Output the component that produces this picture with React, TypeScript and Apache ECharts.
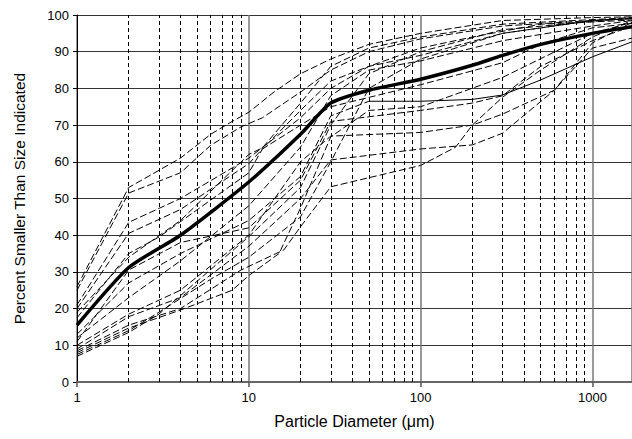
import React, { useEffect, useRef } from "react";
import * as echarts from "echarts";

// Y axis tick labels and x axis decade labels
const Y_TICKS = [0, 10, 20, 30, 40, 50, 60, 70, 80, 90, 100];
const X_DECADES = [1, 10, 100, 1000];
// Intermediate diameters drawn as dashed vertical grid lines
const X_MINOR = [2, 3, 4, 5, 6, 7, 8, 9, 20, 30, 40, 50, 60, 70, 80, 90, 200, 300, 400, 500, 600, 700, 800, 900];

// Individual samples: [diameter µm, percent smaller]
const SAMPLE_A: [number, number][] = [[1, 26], [2, 53], [4, 61], [6, 67.5], [8, 71], [10, 73.5], [14, 79], [20, 84], [30, 88], [50, 92], [100, 95], [300, 98.5], [1000, 99.3], [1700, 99.5]];
const SAMPLE_B: [number, number][] = [[1, 25], [2, 51.5], [4, 57], [6, 64.5], [9, 69.5], [12, 72], [20, 79], [30, 85], [50, 90], [100, 93.5], [300, 97], [1000, 98.5], [1700, 99]];
const SAMPLE_C: [number, number][] = [[1, 21], [2, 43.5], [4, 50], [10, 61], [20, 72], [30, 80], [50, 86], [100, 91], [200, 94], [500, 97.5], [1700, 98.6]];
const SAMPLE_D: [number, number][] = [[1, 20], [2, 40.5], [4, 47], [10, 59.5], [12, 63.5], [20, 70], [30, 75], [100, 81], [300, 87], [500, 92], [1000, 96.5], [1700, 97.7]];
const SAMPLE_E: [number, number][] = [[1, 17.5], [2, 35], [3, 39.5], [10, 57], [12, 63.5], [20, 74], [30, 82], [50, 86], [100, 89], [300, 95], [1000, 98.5], [1700, 99]];
const SAMPLE_F: [number, number][] = [[1, 19], [2, 34], [4, 44], [10, 62], [12, 63.8], [20, 76], [30, 86], [50, 91], [100, 94], [300, 97.5], [1700, 99.3]];
const SAMPLE_G: [number, number][] = [[1, 13], [2, 27], [4, 35], [10, 44], [20, 56], [30, 72.5], [50, 76.5]];
const SAMPLE_G_TAIL: [number, number][] = [[50, 76.5], [100, 76.5], [200, 77], [300, 78.2], [500, 82.3], [1000, 88.6], [1700, 92.7]];
const SAMPLE_H: [number, number][] = [[1, 11], [2, 30.5], [4, 38], [10, 42], [20, 55], [30, 71], [100, 74], [200, 76], [300, 78], [500, 86], [1000, 93], [1700, 97]];
const SAMPLE_I: [number, number][] = [[1, 10], [2, 18.5], [4, 25], [10, 40], [20, 60], [30, 67], [100, 68], [200, 70], [300, 73], [600, 79.5], [1000, 91], [1700, 93.7]];
const SAMPLE_J: [number, number][] = [[1, 9], [2, 17.8], [4, 23], [10, 37], [20, 50], [30, 60.5], [100, 63.5], [200, 64.6], [300, 67.8], [600, 79.5], [1000, 92.4], [1700, 98]];
const SAMPLE_K: [number, number][] = [[1, 8.5], [2, 15.5], [4, 20], [9, 30.5], [16, 36], [20, 42.3], [30, 53.2], [100, 59], [160, 64], [200, 70], [300, 77.6], [500, 85], [1000, 94], [1700, 98.5]];
const SAMPLE_L: [number, number][] = [[1, 8], [2, 14.7], [4, 19.6], [8, 25], [10, 29], [15, 35], [20, 47.4], [30, 66.8], [50, 74], [100, 75], [300, 83], [1000, 95], [1700, 98]];
const SAMPLE_M: [number, number][] = [[1, 7.5], [2, 14], [3, 19], [6, 28], [10, 34], [20, 45], [30, 60], [50, 80], [100, 88], [300, 95], [1000, 98.5], [1700, 99]];
const SAMPLE_N: [number, number][] = [[1, 7], [2, 13.5], [3, 18.5], [10, 39.6], [20, 53], [30, 70], [50, 84], [100, 90], [300, 96], [1700, 99.2]];
const SAMPLE_O: [number, number][] = [[1, 12], [2, 23], [4, 33], [10, 48], [20, 64], [30, 78], [50, 85], [100, 87.5], [300, 93], [1000, 97], [1700, 98.5]];
// Mean curve (thick)
const MEAN: [number, number][] = [[1, 15.5], [2, 31.2], [4, 40], [10, 54.5], [20, 67.5], [30, 76], [50, 79.5], [100, 82.5], [200, 86.3], [300, 89], [500, 92], [1000, 95], [1700, 96.8]];

const X_MAX = 1700;
const FONT = "'Liberation Sans', Arial, Helvetica, sans-serif";

const DASHED = [SAMPLE_A, SAMPLE_B, SAMPLE_C, SAMPLE_D, SAMPLE_E, SAMPLE_F, SAMPLE_G, SAMPLE_H, SAMPLE_I, SAMPLE_J, SAMPLE_K, SAMPLE_L, SAMPLE_M, SAMPLE_N, SAMPLE_O];

export default function App() {
  const ref = useRef<HTMLDivElement>(null);
  useEffect(() => {
    if (!ref.current) return;
    const chart = echarts.init(ref.current, undefined, { renderer: "svg" });
    const series: any[] = [];
    series.push({
      type: "line",
      data: [],
      silent: true,
      z: 1,
      markLine: {
        silent: true,
        symbol: ["none", "none"],
        label: { show: false },
        animation: false,
        lineStyle: { color: "#000", width: 1, type: [4, 3] },
        data: X_MINOR.map((v) => ({ xAxis: v })),
      },
    });
    DASHED.forEach((d) => {
      series.push({
        type: "line",
        data: d,
        symbol: "none",
        silent: true,
        z: 3,
        lineStyle: { color: "#000", width: 1, type: [7, 3] },
      });
    });
    series.push({
      type: "line",
      data: SAMPLE_G_TAIL,
      symbol: "none",
      silent: true,
      z: 3,
      lineStyle: { color: "#000", width: 1, type: "solid" },
    });
    series.push({
      type: "line",
      data: MEAN,
      symbol: "none",
      smooth: 0.2,
      silent: true,
      z: 5,
      lineStyle: { color: "#000", width: 3.5, type: "solid" },
    });

    chart.setOption({
      animation: false,
      backgroundColor: "#fff",
      grid: { left: 77, right: 0, top: 15, bottom: 57, containLabel: false },
      xAxis: {
        type: "log",
        logBase: 10,
        min: 1,
        max: X_MAX,
        name: "Particle Diameter (\u03bcm)",
        nameLocation: "middle",
        nameGap: 31,
        nameTextStyle: { fontFamily: FONT, fontSize: 16, color: "#000" },
        axisLine: { show: true, lineStyle: { color: "#666", width: 2 } },
        axisTick: { show: true, length: 5, lineStyle: { color: "#555", width: 1.5 } },
        axisLabel: {
          fontFamily: FONT,
          fontSize: 13,
          color: "#000",
          margin: 9,
          showMaxLabel: false,
          formatter: (v: number) => (X_DECADES.includes(Math.round(v)) ? String(Math.round(v)) : ""),
        },
        splitLine: { show: true, lineStyle: { color: "#777", width: 1.5 } },
        minorTick: { show: false },
      },
      yAxis: {
        type: "value",
        min: Y_TICKS[0],
        max: Y_TICKS[Y_TICKS.length - 1],
        interval: 10,
        name: "Percent Smaller Than Size Indicated",
        nameLocation: "middle",
        nameGap: 50,
        nameTextStyle: { fontFamily: FONT, fontSize: 15.5, color: "#000" },
        axisLine: { show: true, lineStyle: { color: "#000", width: 1 } },
        axisTick: { show: true, length: 4, lineStyle: { color: "#000" } },
        axisLabel: { fontFamily: FONT, fontSize: 13, color: "#000", margin: 8 },
        splitLine: { show: true, lineStyle: { color: "#333", width: 1.2 } },
      },
      series,
    });
    return () => chart.dispose();
  }, []);
  return (
    <div
      ref={ref}
      style={{ position: "fixed", left: 0, top: 0, width: 632, height: 439, background: "#fff" }}
    />
  );
}
